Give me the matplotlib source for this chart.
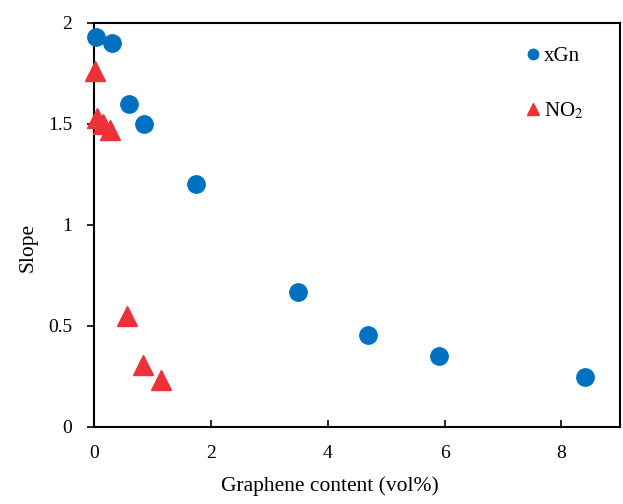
import matplotlib
matplotlib.use("Agg")
import matplotlib.pyplot as plt

xgn_x = [0.03, 0.31, 0.60, 0.86, 1.75, 3.49, 4.69, 5.91, 8.40]
xgn_y = [1.93, 1.90, 1.60, 1.50, 1.20, 0.666, 0.455, 0.35, 0.246]
no2_x = [0.02, 0.05, 0.16, 0.28, 0.57, 0.84, 1.15]
no2_y = [1.76, 1.53, 1.50, 1.47, 0.55, 0.306, 0.232]
x_ticks = [0, 2, 4, 6, 8]
y_ticks = [0, 0.5, 1, 1.5, 2]
y_ticklabels = ["0", "0.5", "1", "1.5", "2"]

plt.rcParams['font.family'] = ['Liberation Serif', 'DejaVu Serif']
plt.rcParams['mathtext.fontset'] = 'stix'

fig = plt.figure(figsize=(6.23, 5.04), dpi=100)
ax = fig.add_axes([0.1509, 0.1534, 0.844, 0.801])

blue = '#0070C0'
red = '#EC3237'
ax.plot(xgn_x, xgn_y, linestyle='none', marker='o', markersize=12.5,
        color=blue, clip_on=False, zorder=3, label='xGn')
ax.plot(no2_x, no2_y, linestyle='none', marker='^', markersize=14,
        color=red, clip_on=False, zorder=3, label='NO$_2$')

ax.set_xlim(0, 9)
ax.set_ylim(0, 2)
ax.set_xticks(x_ticks)
ax.set_yticks(y_ticks)
ax.set_yticklabels(y_ticklabels)
ax.tick_params(axis='x', direction='in', length=5, width=1.2, labelsize=14, pad=13.5)
ax.tick_params(axis='y', direction='out', length=5, width=1.2, labelsize=14, pad=10.5)
for s in ax.spines.values():
    s.set_linewidth(1.5)

ax.set_xlabel('Graphene content (vol%)', fontsize=15.5)
ax.set_ylabel('Slope', fontsize=15.5)
ax.xaxis.set_label_coords(0.449, -0.124)
ax.yaxis.set_label_coords(-0.107, 0.444)

leg = ax.legend(loc='upper right', bbox_to_anchor=(0.947, 0.962), frameon=False,
                fontsize=15, markerscale=0.6, handlelength=0.6, handletextpad=0.25,
                labelspacing=1.65, borderaxespad=0)

fig.savefig('out.png', dpi=100)
